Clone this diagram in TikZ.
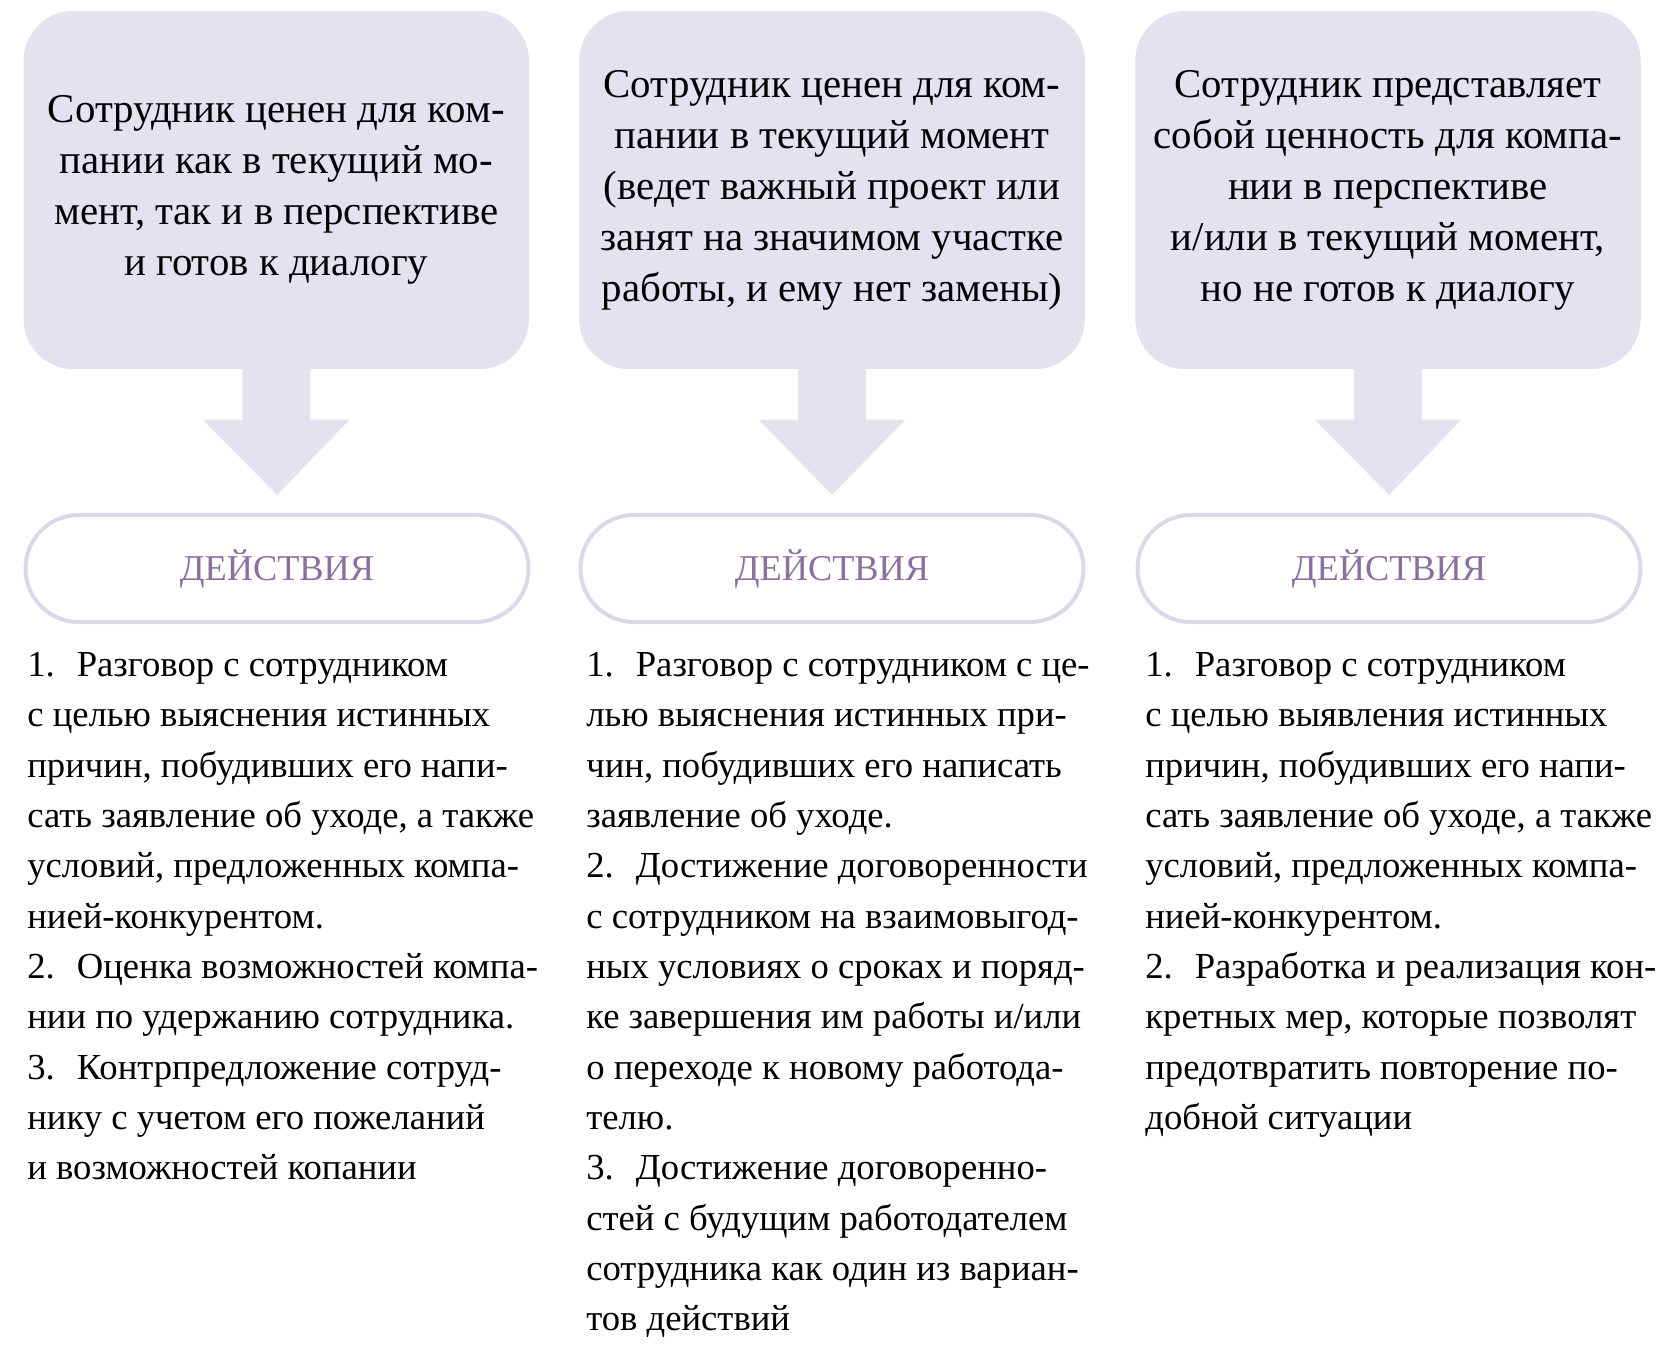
\documentclass[tikz,border=0pt]{standalone}
\usepackage{fontspec}
\setmainfont{Liberation Serif}
\usetikzlibrary{calc}

\definecolor{lilac}{HTML}{E6E1EF}
\definecolor{lilacline}{HTML}{DCD8E8}
\definecolor{actviolet}{HTML}{8C6E9F}

\tikzset{
  casebox/.style={fill=lilac, rounded corners=30pt, minimum width=303.3pt,
    minimum height=215pt, align=center, inner sep=0pt,
    font=\fontsize{24.5}{30.6}\selectfont},
  actbox/.style={draw=lilacline, line width=2.4pt, fill=white, rounded corners=32pt,
    minimum width=301.8pt, minimum height=64.2pt, text=actviolet,
    font=\fontsize{21.8}{25}\selectfont},
  steps/.style={anchor=north west, align=left, inner sep=0pt,
    font=\fontsize{22}{30.2}\selectfont},
  downarrow/.style={fill=lilac}
}

\begin{document}
\begin{tikzpicture}[x=0.6pt,y=-0.6pt]
        \useasboundingbox (0,0) rectangle (1667,1344);

        % First column
        \node [casebox] (top1) at (276.3,190) {Сотрудник ценен для ком-\\пании как в текущий мо-\\мент, так и в перспективе\\и готов к диалогу};
        \node [actbox] (act1) at (277,568.5) {ДЕЙСТВИЯ};
        \fill [downarrow] ($(top1.south)+(-34,-2)$) -- ++(0,52) -- ++(-39.5,0) -- ($(act1.north)+(0,-18)$)
              -- ($(top1.south)+(73.5,50)$) -- ++(-39.5,0) -- ++(0,-52) -- cycle;
        \node [steps] (list1) at (27,652) {1.\hspace{0.6em}Разговор с сотрудником\\
с целью выяснения истинных\\
причин, побудивших его напи-\\
сать заявление об уходе, а также\\
условий, предложенных компа-\\
нией-конкурентом.\\
2.\hspace{0.6em}Оценка возможностей компа-\\
нии по удержанию сотрудника.\\
3.\hspace{0.6em}Контрпредложение сотруд-\\
нику с учетом его пожеланий\\
и возможностей копании};

        % Second column
        \node [casebox] (top2) at (832,190) {Сотрудник ценен для ком-\\пании в текущий момент\\(ведет важный проект или\\занят на значимом участке\\работы, и ему нет замены)};
        \node [actbox] (act2) at (832,568.5) {ДЕЙСТВИЯ};
        \fill [downarrow] ($(top2.south)+(-34,-2)$) -- ++(0,52) -- ++(-39.5,0) -- ($(act2.north)+(0,-18)$)
              -- ($(top2.south)+(73.5,50)$) -- ++(-39.5,0) -- ++(0,-52) -- cycle;
        \node [steps] (list2) at (586,652) {1.\hspace{0.6em}Разговор с сотрудником с це-\\
лью выяснения истинных при-\\
чин, побудивших его написать\\
заявление об уходе.\\
2.\hspace{0.6em}Достижение договоренности\\
с сотрудником на взаимовыгод-\\
ных условиях о сроках и поряд-\\
ке завершения им работы и/или\\
о переходе к новому работода-\\
телю.\\
3.\hspace{0.6em}Достижение договоренно-\\
стей с будущим работодателем\\
сотрудника как один из вариан-\\
тов действий};

        % Third column
        \node [casebox] (top3) at (1388,190) {Сотрудник представляет\\собой ценность для компа-\\нии в перспективе\\и/или в текущий момент,\\но не готов к диалогу};
        \node [actbox] (act3) at (1389,568.5) {ДЕЙСТВИЯ};
        \fill [downarrow] ($(top3.south)+(-34,-2)$) -- ++(0,52) -- ++(-39.5,0) -- ($(act3.north)+(0,-18)$)
              -- ($(top3.south)+(73.5,50)$) -- ++(-39.5,0) -- ++(0,-52) -- cycle;
        \node [steps] (list3) at (1145,652) {1.\hspace{0.6em}Разговор с сотрудником\\
с целью выявления истинных\\
причин, побудивших его напи-\\
сать заявление об уходе, а также\\
условий, предложенных компа-\\
нией-конкурентом.\\
2.\hspace{0.6em}Разработка и реализация кон-\\
кретных мер, которые позволят\\
предотвратить повторение по-\\
добной ситуации};
\end{tikzpicture}
\end{document}
